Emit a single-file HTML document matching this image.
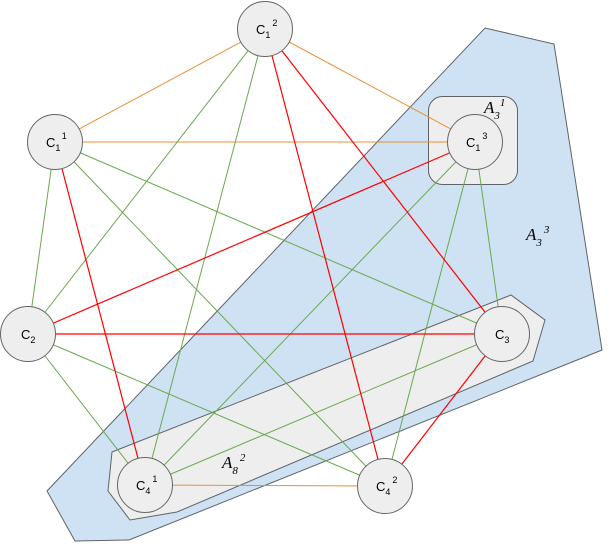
<!DOCTYPE html>
<html><head><meta charset="utf-8"><style>
html,body{margin:0;padding:0;background:#fff;}
svg{display:block;font-family:"Liberation Sans",sans-serif;}
</style></head><body>
<svg id="g" width="610" height="552" viewBox="0 0 610 552">
<polygon points="47,491 485,28 554,44 602,350 129,540 75,541" fill="#cfe2f3" stroke="#5f6368" stroke-width="1"/>
<polygon points="112,452 511,295 545,320 533,361 177,512 130,520 108,491" fill="#eeeeee" stroke="#5f6368" stroke-width="1"/>
<rect x="428.5" y="96.5" width="89" height="88" rx="14" fill="#eeeeee" stroke="#5f6368" stroke-width="1"/>
<g id="edges"></g>
<g id="nodes"></g>
<text x="484" y="113" font-family="Liberation Serif,serif" font-style="italic" font-size="17">A<tspan font-size="11" dy="6">3</tspan><tspan font-size="11" dy="-13">1</tspan></text>
<text x="526" y="240" font-family="Liberation Serif,serif" font-style="italic" font-size="17">A<tspan font-size="11" dy="6">3</tspan><tspan font-size="11" dy="-13" dx="2">3</tspan></text>
<text x="222" y="468" font-family="Liberation Serif,serif" font-style="italic" font-size="17">A<tspan font-size="11" dy="6">8</tspan><tspan font-size="11" dy="-13" dx="2">2</tspan></text>
</svg>
<script>
const nodeIds = ["c1_2","c1_1","c1_3","c2","c3","c4_1","c4_2"];
const nodeX = [265,55,475,28,502,145,385];
const nodeY = [29,142,142,334,334,485,486];
const nodeBase = ["C","C","C","C","C","C","C"];
const nodeSub = ["1","1","1","2","3","4","4"];
const nodeSup = ["2","1","3","","","1","2"];
const edgeFrom = ["c1_2","c1_2","c1_1","c4_1","c1_1","c1_2","c1_2","c1_1","c1_1","c2","c2","c1_3","c1_3","c1_3","c3","c1_2","c1_2","c1_1","c2","c2","c3"];
const edgeTo   = ["c1_1","c1_3","c1_3","c4_2","c2","c2","c4_1","c3","c4_2","c4_1","c4_2","c4_1","c4_2","c3","c4_1","c4_2","c3","c4_1","c1_3","c3","c4_2"];
const edgeType = ["o","o","o","o","g","g","g","g","g","g","g","g","g","g","g","r","r","r","r","r","r"];
const colors = {o:"#e69138",g:"#6aa84f",r:"#ff0000"};
const NS="http://www.w3.org/2000/svg";
const R=27.5;
const eg=document.getElementById("edges"), ng=document.getElementById("nodes");
function pos(id){const i=nodeIds.indexOf(id);return [nodeX[i],nodeY[i]];}
edgeFrom.forEach((f,i)=>{
  const a=pos(f), b=pos(edgeTo[i]);
  const l=document.createElementNS(NS,"line");
  l.setAttribute("x1",a[0]);l.setAttribute("y1",a[1]);l.setAttribute("x2",b[0]);l.setAttribute("y2",b[1]);
  l.setAttribute("stroke",colors[edgeType[i]]);l.setAttribute("stroke-width",edgeType[i]==="r"?1.2:1);
  
  
  eg.appendChild(l);
});
nodeIds.forEach((id,i)=>{
  const g=document.createElementNS(NS,"g");
  
  
  const c=document.createElementNS(NS,"circle");
  c.setAttribute("cx",nodeX[i]);c.setAttribute("cy",nodeY[i]);c.setAttribute("r",R);
  c.setAttribute("fill","#eeeeee");c.setAttribute("stroke","#666");c.setAttribute("stroke-width",1);
  g.appendChild(c);
  const t=document.createElementNS(NS,"text");
  t.setAttribute("x",nodeX[i]-(nodeSup[i]?9:7));t.setAttribute("y",nodeY[i]+5);t.setAttribute("font-size","13");
  t.innerHTML=nodeBase[i]+'<tspan font-size="9" dy="4">'+nodeSub[i]+'</tspan>'+(nodeSup[i]?'<tspan font-size="9" dy="-12" dx="2">'+nodeSup[i]+'</tspan>':'');
  
  
  g.appendChild(t);
  ng.appendChild(g);
});
</script>
</body></html>
